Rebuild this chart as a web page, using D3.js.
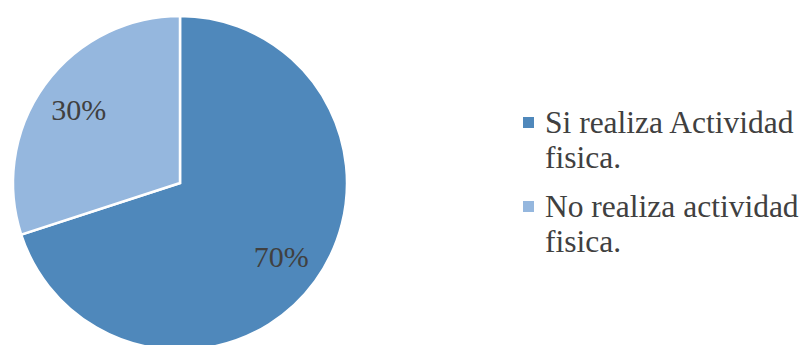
<!DOCTYPE html>
<html><head><meta charset="utf-8">
<script src="https://cdn.jsdelivr.net/npm/d3@7"></script>
<style>html,body{margin:0;padding:0;background:#fff;}svg{display:block;}
text{font-family:"Liberation Serif","Times New Roman",Times,serif;}</style>
</head><body>
<svg id="c" width="806" height="345"></svg>
<script>
const categories = ["Si realiza Actividad fisica.", "No realiza actividad fisica."];
const legendLines = [["Si realiza Actividad", "fisica."], ["No realiza actividad", "fisica."]];
const values = [70, 30];
const labels = ["70%", "30%"];
const colors = ["#4f88bb", "#95b7de"];

const svg = d3.select("#c");
const cx = 180, cy = 183, r = 167;

const pie = d3.pie().sort(null).value(d => d)(values);
const arc = d3.arc().innerRadius(0).outerRadius(r);
const labelArc = d3.arc().innerRadius(125).outerRadius(125);
const g = svg.append("g").attr("transform", `translate(${cx},${cy})`);
g.selectAll("path").data(pie).join("path")
  .attr("d", arc).attr("fill", (d, i) => colors[i])
  .attr("stroke", "#fff").attr("stroke-width", 2.5).attr("stroke-linejoin", "miter");
g.selectAll("text").data(pie).join("text")
  .attr("transform", d => `translate(${labelArc.centroid(d)})`)
  .attr("text-anchor", "middle").attr("dy", "0.35em")
  .attr("font-size", 30).attr("fill", "#404040")
  .text((d, i) => labels[i]);

const leg = svg.append("g");
const legY = [133, 217];
categories.forEach((c, i) => {
  leg.append("rect").attr("x", 523).attr("y", legY[i] - 16).attr("width", 11).attr("height", 11).attr("fill", colors[i]);
  const t = leg.append("text").attr("x", 545).attr("y", legY[i])
    .attr("font-size", 31.5).attr("fill", "#404040");
  legendLines[i].forEach((ln, j) => t.append("tspan").attr("x", 545).attr("dy", j === 0 ? 0 : 35).text(ln));
});
</script>
</body></html>
